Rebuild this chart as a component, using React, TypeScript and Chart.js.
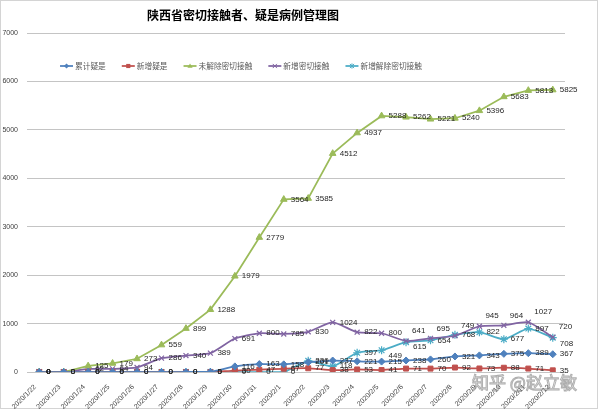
import React, { useEffect, useRef } from "react";
import { Chart, registerables } from "chart.js";

Chart.register(...registerables);

const TITLE = "陕西省密切接触者、疑是病例管理图";
const WATERMARK = "知乎 @赵立敏";

const categories = [
  "2020/1/22", "2020/1/23", "2020/1/24", "2020/1/25", "2020/1/26", "2020/1/27",
  "2020/1/28", "2020/1/29", "2020/1/30", "2020/1/31", "2020/2/1", "2020/2/2",
  "2020/2/3", "2020/2/4", "2020/2/5", "2020/2/6", "2020/2/7", "2020/2/8",
  "2020/2/9", "2020/2/10", "2020/2/11", "2020/2/12",
];

const seriesNames = ["累计疑是", "新增疑是", "未解除密切接触", "新增密切接触", "新增解除密切接触"];

const cumulativeSuspected = [0, 0, 0, 0, 0, 0, 0, 5, 116, 163, 158, 201, 237, 221, 215, 238, 260, 321, 343, 375, 389, 367];
const newSuspected = [0, 0, 0, 0, 0, 0, 0, 0, 30, 47, 67, 77, 38, 53, 41, 71, 70, 92, 73, 88, 71, 35];
const unreleasedContacts = [0, 0, 125, 179, 273, 559, 899, 1288, 1979, 2779, 3564, 3585, 4512, 4937, 5288, 5262, 5221, 5240, 5396, 5683, 5813, 5825];
const newContacts = [0, 0, 62, 64, 94, 286, 340, 389, 691, 800, 785, 830, 1024, 822, 800, 641, 695, 749, 945, 964, 1027, 720];
const newReleased = [0, 0, 0, 0, 0, 0, 0, 0, 0, 0, 0, 230, 118, 397, 449, 615, 654, 768, 822, 677, 897, 708];

const yTicks = [0, 1000, 2000, 3000, 4000, 5000, 6000, 7000];

const colors = ["#4F81BD", "#C0504D", "#9BBB59", "#8064A2", "#4BACC6"];
const pointStyles = ["rectRot", "rect", "triangle", "crossRot", "star"];
const pointRadii = [3.5, 3.5, 3.8, 3.5, 4];
const tensions = [0.2, 0.2, 0, 0.2, 0.2];

function labelOffset(datasetIndex: number, index: number) {
  // Purple labels sit above-right from 2/6 on; cyan label of last point sits a bit lower
  if (datasetIndex === 3 && index >= 15) return { dx: 6, dy: -10 };
  if (datasetIndex === 4 && (index === 14 || index === 21)) return { dx: 7, dy: 6 };
  if (datasetIndex === 4 && index === 15) return { dx: 7, dy: 5 };
  return { dx: 7, dy: 0 };
}

const decorPlugin = {
  id: "decor",
  beforeDraw(chart: any) {
    const ctx = chart.ctx;
    ctx.save();
    ctx.fillStyle = "#ffffff";
    ctx.fillRect(0, 0, chart.width, chart.height);
    ctx.strokeStyle = "#d4d4d4";
    ctx.lineWidth = 1;
    ctx.strokeRect(0.5, 0.5, 597, 408);
    ctx.restore();
  },
  afterDraw(chart: any) {
    const ctx = chart.ctx;
    ctx.save();
    // title
    ctx.font = "bold 12px 'Noto Sans CJK SC'";
    ctx.fillStyle = "#000000";
    ctx.textAlign = "center";
    ctx.textBaseline = "middle";
    ctx.fillText(TITLE, 243, 15);

    // legend
    ctx.font = "7.7px 'Noto Sans CJK SC'";
    const lineLen = 13;
    const gapAfterLine = 2;
    const gapItems = 16;
    const widths = chart.data.datasets.map((d: any) => ctx.measureText(d.label).width);
    let total = 0;
    widths.forEach((w: number, i: number) => {
      total += lineLen + gapAfterLine + w + (i < widths.length - 1 ? gapItems : 0);
    });
    let x = 241 - total / 2;
    const y = 66;
    chart.data.datasets.forEach((d: any, i: number) => {
      ctx.strokeStyle = d.borderColor;
      ctx.lineWidth = 1.75;
      ctx.beginPath();
      ctx.moveTo(x, y);
      ctx.lineTo(x + lineLen, y);
      ctx.stroke();
      drawMarker(ctx, d.pointStyle, x + lineLen / 2, y, 2.6, d.borderColor);
      ctx.fillStyle = "#595959";
      ctx.textAlign = "left";
      ctx.textBaseline = "middle";
      ctx.fillText(d.label, x + lineLen + gapAfterLine, y);
      x += lineLen + gapAfterLine + widths[i] + gapItems;
    });

    // data labels
    ctx.font = "8px 'Liberation Sans'";
    ctx.fillStyle = "#262626";
    ctx.textAlign = "left";
    ctx.textBaseline = "middle";
    chart.data.datasets.forEach((d: any, di: number) => {
      const meta = chart.getDatasetMeta(di);
      meta.data.forEach((pt: any, i: number) => {
        const o = labelOffset(di, i);
        ctx.fillText(String(d.data[i]), pt.x + o.dx, pt.y + o.dy);
      });
    });

    // watermark
    ctx.font = "17px 'Noto Sans CJK SC'";
    ctx.textAlign = "left";
    ctx.textBaseline = "middle";
    ctx.lineWidth = 1;
    ctx.strokeStyle = "rgba(110,110,110,0.55)";
    ctx.fillStyle = "rgba(255,255,255,0.5)";
    ctx.fillText(WATERMARK, 472, 383);
    ctx.strokeText(WATERMARK, 472, 383);
    ctx.restore();
  },
};

function drawMarker(ctx: any, style: string, x: number, y: number, r: number, color: string) {
  ctx.save();
  ctx.fillStyle = color;
  ctx.strokeStyle = color;
  ctx.lineWidth = 1;
  ctx.beginPath();
  if (style === "rectRot") {
    ctx.moveTo(x, y - r);
    ctx.lineTo(x + r, y);
    ctx.lineTo(x, y + r);
    ctx.lineTo(x - r, y);
    ctx.closePath();
    ctx.fill();
  } else if (style === "rect") {
    ctx.rect(x - r * 0.8, y - r * 0.8, r * 1.6, r * 1.6);
    ctx.fill();
  } else if (style === "triangle") {
    ctx.moveTo(x, y - r);
    ctx.lineTo(x + r, y + r * 0.7);
    ctx.lineTo(x - r, y + r * 0.7);
    ctx.closePath();
    ctx.fill();
  } else if (style === "crossRot") {
    ctx.moveTo(x - r * 0.8, y - r * 0.8);
    ctx.lineTo(x + r * 0.8, y + r * 0.8);
    ctx.moveTo(x + r * 0.8, y - r * 0.8);
    ctx.lineTo(x - r * 0.8, y + r * 0.8);
    ctx.stroke();
  } else {
    ctx.moveTo(x, y - r);
    ctx.lineTo(x, y + r);
    ctx.moveTo(x - r * 0.8, y - r * 0.8);
    ctx.lineTo(x + r * 0.8, y + r * 0.8);
    ctx.moveTo(x + r * 0.8, y - r * 0.8);
    ctx.lineTo(x - r * 0.8, y + r * 0.8);
    ctx.stroke();
  }
  ctx.restore();
}

export default function App() {
  const canvasRef = useRef<HTMLCanvasElement | null>(null);

  useEffect(() => {
    if (!canvasRef.current) return;
    const seriesData = [cumulativeSuspected, newSuspected, unreleasedContacts, newContacts, newReleased];
    const chart = new Chart(canvasRef.current, {
      type: "line",
      data: {
        labels: categories,
        datasets: seriesNames.map((name, i) => ({
          label: name,
          data: seriesData[i],
          borderColor: colors[i],
          backgroundColor: colors[i],
          borderWidth: 1.75,
          pointStyle: pointStyles[i] as any,
          pointRadius: pointRadii[i],
          pointBorderWidth: i >= 3 ? 1.2 : 1,
          tension: tensions[i],
          fill: false,
        })),
      },
      options: {
        animation: false,
        responsive: false,
        maintainAspectRatio: false,
        layout: { padding: { top: 33, right: 35, left: 0, bottom: 0 } },
        plugins: {
          legend: { display: false },
          title: { display: false },
          tooltip: { enabled: false },
        },
        scales: {
          x: {
            offset: true,
            grid: { display: false },
            border: { display: false },
            ticks: {
              autoSkip: false,
              minRotation: 45,
              maxRotation: 45,
              labelOffset: -4,
              padding: 3,
              color: "#404040",
              font: { size: 7, family: "'Liberation Sans'" },
            },
            afterFit(scale: any) {
              scale.height = 39;
            },
          },
          y: {
            min: 0,
            max: 7000,
            afterBuildTicks(scale: any) {
              scale.ticks = yTicks.map((v) => ({ value: v }));
            },
            grid: { color: "#c4c4c4", lineWidth: 1, drawTicks: false },
            border: { display: false },
            ticks: {
              padding: 9,
              color: "#404040",
              font: { size: 7, family: "'Liberation Sans'" },
              callback: (v: any) => String(v),
            },
            afterFit(scale: any) {
              scale.width = 27;
            },
          },
        },
      },
      plugins: [decorPlugin],
    });
    return () => chart.destroy();
  }, []);

  return (
    <div style={{ position: "fixed", left: 0, top: 0, width: 600, height: 411, background: "#fff" }}>
      <canvas ref={canvasRef} width={600} height={411} style={{ display: "block", width: 600, height: 411 }} />
    </div>
  );
}
